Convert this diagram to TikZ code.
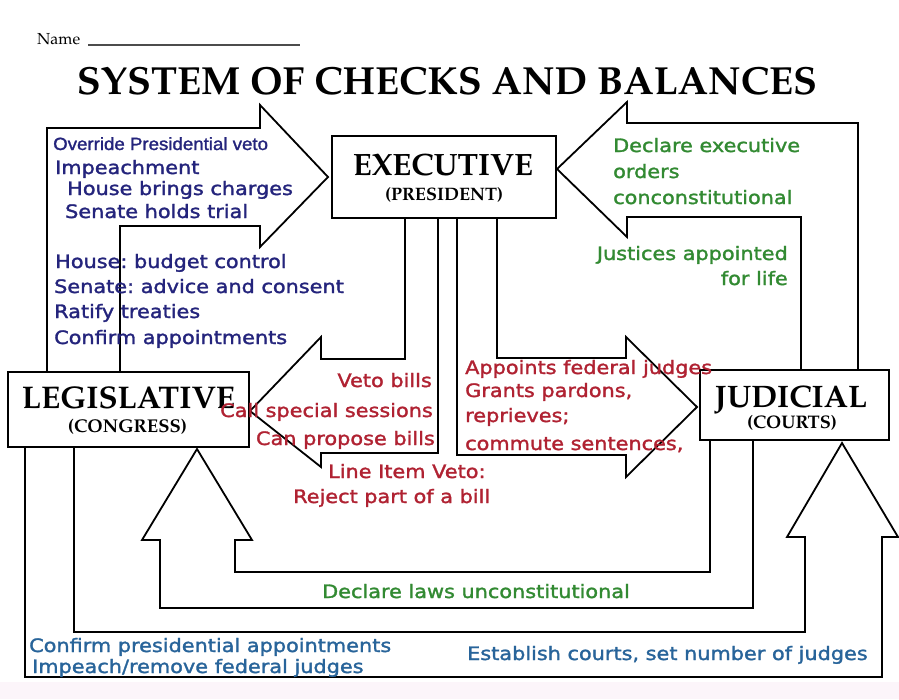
\documentclass[tikz,border=0pt]{standalone}
\usepackage[T1,TU]{fontenc}
\usepackage{fontspec}
\usepackage{graphicx}
\newfontfamily\dvs[FakeStretch=1.125,FakeBold=1.6]{DejaVu Sans}
\newfontfamily\arl[FakeStretch=1.055,FakeBold=1.4]{Liberation Sans}
\newcommand\palb{\fontencoding{T1}\fontfamily{ppl}\fontseries{b}\selectfont}
\newcommand\palr{\fontencoding{T1}\fontfamily{ppl}\fontseries{m}\selectfont}
\definecolor{navyb}{RGB}{36,36,124}
\definecolor{redt}{RGB}{176,34,50}
\definecolor{greent}{RGB}{50,138,50}
\definecolor{steelb}{RGB}{40,100,154}
\definecolor{pinkbg}{RGB}{252,245,250}
\tikzset{
  box/.style={draw, line width=1.8pt, inner sep=0pt, outer sep=0pt},
  arr/.style={line width=1.8pt, line join=miter},
  lbl/.style={inner sep=0pt, anchor=base, font=\palb},
  txt/.style={inner sep=0pt, anchor=base west, font={\dvs\fontsize{18.5pt}{22pt}\selectfont\frenchspacing}},
  nv/.style={txt, text=navyb},
  rd/.style={txt, text=redt},
  gr/.style={txt, text=greent},
  sb/.style={txt, text=steelb}
}
\begin{document}
\begin{tikzpicture}[x=1pt,y=-1pt]
\useasboundingbox (0,0) rectangle (899,699);
\fill[white] (0,0) rectangle (899,699);
\fill[pinkbg] (0,682) rectangle (899,699);

% title and name
\node[inner sep=0pt, anchor=base west, font=\palr] (name) at (37,44) {\resizebox{43pt}{!}{Name}};
\draw[line width=1.1pt, black!70] ([xshift=8pt,yshift=-1pt]name.base east) -- ++(212,0);
\node[lbl] (title) at (447,94) {\resizebox{740pt}{!}{SYSTEM OF CHECKS AND BALANCES}};

% boxes
\node[box, minimum width=224pt, minimum height=82pt] (exec) at (444,177) {};
\node[box, minimum width=241pt, minimum height=75pt] (leg) at (128.5,409.5) {};
\node[box, minimum width=189pt, minimum height=70pt] (jud) at (794.5,405) {};

\node[lbl] (execT) at (443,175) {\resizebox{180pt}{!}{EXECUTIVE}};
\node[lbl] (execS) at (444,200) {\resizebox{118pt}{!}{(PRESIDENT)}};
\node[lbl] (legT) at (128.5,408) {\resizebox{213pt}{!}{LEGISLATIVE}};
\node[lbl] (legS) at (127.5,432) {\resizebox{119pt}{!}{(CONGRESS)}};
\node[lbl] (judT) at (791,407) {\resizebox{152pt}{!}{JUDICIAL}};
\node[lbl] (judS) at (792,428) {\resizebox{90pt}{!}{(COURTS)}};

% Legislative -> Executive
\draw[arr] (47,0 |- leg.north) -- (47,128) -- (260,128) -- (260,105) -- (328,177)
  -- (260,247) -- (260,226) -- (120,226) -- (120,0 |- leg.north);
% Executive -> Legislative
\draw[arr] (405,0 |- exec.south) -- (405,359) -- (321,359) -- (321,337) -- (250,411)
  -- (321,467) -- (321,453) -- (438,453) -- (438,0 |- exec.south);
% Executive -> Judicial
\draw[arr] (457,0 |- exec.south) -- (457,455) -- (626,455) -- (626,477) -- (697,407)
  -- (626,337) -- (626,358) -- (497,358) -- (497,0 |- exec.south);
% Judicial -> Executive
\draw[arr] (858,0 |- jud.north) -- (858,123) -- (627,123) -- (627,102) -- (557,169)
  -- (627,237) -- (627,217) -- (801,217) -- (801,0 |- jud.north);
% Judicial -> Legislative
\draw[arr] (710,0 |- jud.south) -- (710,572) -- (235,572) -- (235,540) -- (252,540)
  -- (197,449) -- (142,540) -- (160,540) -- (160,608) -- (753,608) -- (753,0 |- jud.south);
% Legislative -> Judicial
\draw[arr] (25,0 |- leg.south) -- (25,677) -- (882,677) -- (882,537) -- (898,537)
  -- (842,443) -- (787,537) -- (805,537) -- (805,632) -- (74,632) -- (74,0 |- leg.south);

% Legislative checks on Executive
\node[nv, font={\arl\fontsize{17.7pt}{20pt}\selectfont}] (t1) at (53,150) {Override Presidential veto};
\node[nv] (t2) at (55,174) {Impeachment};
\node[nv] (t3) at (67,195) {House brings charges};
\node[nv] (t4) at (65,218) {Senate holds trial};
\node[nv] (t5) at (55,268) {House: budget control};
\node[nv] (t6) at (54,293) {Senate: advice and consent};
\node[nv] (t7) at (54,318) {Ratify treaties};
\node[nv] (t8) at (54,344) {Confirm appointments};

% Executive checks on Legislative
\node[rd, anchor=base east] (r1) at (432,387) {Veto bills};
\node[rd, anchor=base east] (r2) at (433,417) {Call special sessions};
\node[rd, anchor=base east] (r3) at (435,445) {Can propose bills};
\node[rd] (r4) at (328,478) {Line Item Veto:};
\node[rd] (r5) at (293,503) {Reject part of a bill};

% Executive checks on Judicial
\node[rd] (r6) at (465,374) {Appoints federal judges};
\node[rd] (r7) at (465,397) {Grants pardons,};
\node[rd] (r8) at (465,422) {reprieves;};
\node[rd] (r9) at (465,450) {commute sentences,};

% Judicial checks
\node[gr] (g1) at (613,152) {Declare executive};
\node[gr] (g2) at (613,178) {orders};
\node[gr] (g3) at (613,204) {conconstitutional};
\node[gr, anchor=base east] (g4) at (788,260) {Justices appointed};
\node[gr, anchor=base east] (g5) at (788,285) {for life};
\node[gr] (g6) at (322,598) {Declare laws unconstitutional};

% Legislative checks on Judicial
\node[sb] (b1) at (29,652) {Confirm presidential appointments};
\node[sb] (b2) at (32,673) {Impeach/remove federal judges};
\node[sb] (b3) at (467,660) {Establish courts, set number of judges};
\end{tikzpicture}
\end{document}
